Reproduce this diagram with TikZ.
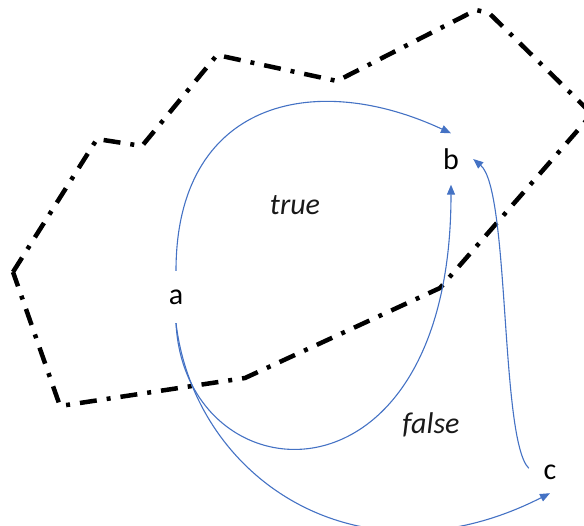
\documentclass[tikz,border=0pt]{standalone}
\usepackage{fontspec}
\setmainfont{Carlito}
\usetikzlibrary{arrows.meta,positioning}
\definecolor{flowblue}{HTML}{4472C4}
\begin{document}
\begin{tikzpicture}[x=1pt, y=-1pt, >={Triangle[length=10pt,width=8pt]},
  vtx/.style={rectangle, inner sep=0pt, font=\fontsize{30}{36}\selectfont},
  cond/.style={inner sep=0pt, font=\fontsize{30}{36}\selectfont\itshape, text=black!90},
  flow/.style={->, color=flowblue, line width=1.1pt},
  region/.style={line width=4.5pt, dash pattern=on 17pt off 10pt on 4pt off 10pt}
]
\useasboundingbox (0,0) rectangle (584,526);
\node[vtx, minimum width=40pt, minimum height=52pt] (a) at (176,297) {a};
\node[vtx, minimum width=44pt, minimum height=51pt] (b) at (451,159) {b};
\node[vtx, minimum width=42pt, minimum height=42pt] (c) at (550,472) {c};
\node[cond] (t) at (295,205) {true};
\node[cond] (f) at (431,425) {false};

\draw[region] (13,272) -- (97,139) -- (142,146) -- (217,55) -- (337,81) -- (476,10)
  -- (489,13) -- (592,114) -- (440,288) -- (245,378) -- (60,406) -- cycle;

\draw[flow] (a.north) .. controls (176,102) and (313,69) .. (b.north);
\draw[flow] (a.south) .. controls (185,500) and (451,520) .. (b.south);
\draw[flow] (a.south) .. controls (195,480) and (360,590) .. (c.south);
\draw[flow] (c.170) .. controls (500,440) and (510,190) .. (b.east);
\end{tikzpicture}
\end{document}
